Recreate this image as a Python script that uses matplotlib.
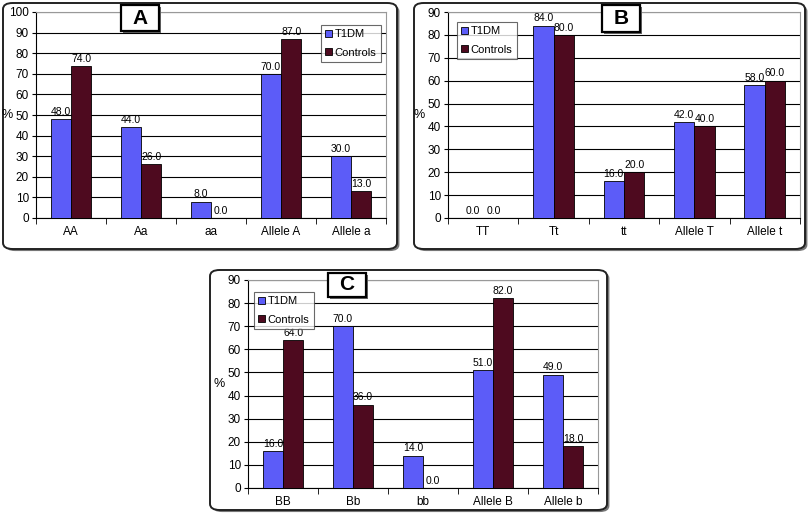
import matplotlib.pyplot as plt
import numpy as np
from matplotlib.patches import FancyBboxPatch, Rectangle

plt.rcParams['font.family'] = ['Liberation Sans', 'DejaVu Sans']

# panel A
cats_a = ["AA", "Aa", "aa", "Allele A", "Allele a"]
t1dm_a = [48.0, 44.0, 8.0, 70.0, 30.0]
ctrl_a = [74.0, 26.0, 0.0, 87.0, 13.0]
# panel B
cats_b = ["TT", "Tt", "tt", "Allele T", "Allele t"]
t1dm_b = [0.0, 84.0, 16.0, 42.0, 58.0]
ctrl_b = [0.0, 80.0, 20.0, 40.0, 60.0]
# panel C
cats_c = ["BB", "Bb", "bb", "Allele B", "Allele b"]
t1dm_c = [16.0, 70.0, 14.0, 51.0, 49.0]
ctrl_c = [64.0, 36.0, 0.0, 82.0, 18.0]

blue = "#5c5cf8"
maroon = "#4e0a1f"
W, H = 810, 518

fig = plt.figure(figsize=(8.1, 5.18), dpi=100)


def px_box(x0, y0, x1, y1):
    # pixel coords (top-left origin) -> figure fraction rect
    return [x0 / W, 1 - y1 / H, (x1 - x0) / W, (y1 - y0) / H]


def frame(x0, y0, x1, y1):
    # shadow then rounded frame, kept behind the axes
    sh = FancyBboxPatch((x0 / W + 0.003, 1 - y1 / H - 0.004), (x1 - x0) / W, (y1 - y0) / H,
                        boxstyle="round,pad=0,rounding_size=0.012", transform=fig.transFigure,
                        facecolor="#777777", edgecolor="none", zorder=-3)
    fr = FancyBboxPatch((x0 / W, 1 - y1 / H), (x1 - x0) / W, (y1 - y0) / H,
                        boxstyle="round,pad=0,rounding_size=0.012", transform=fig.transFigure,
                        facecolor="white", edgecolor="#222222", linewidth=1.4, zorder=-2)
    fig.patches.extend([sh, fr])


def title_box(x0, y0, x1, y1, letter):
    sh = Rectangle((x0 / W + 0.003, 1 - y1 / H - 0.004), (x1 - x0) / W, (y1 - y0) / H,
                   transform=fig.transFigure, facecolor="#666666", edgecolor="none", zorder=5)
    r = Rectangle((x0 / W, 1 - y1 / H), (x1 - x0) / W, (y1 - y0) / H,
                  transform=fig.transFigure, facecolor="white", edgecolor="black",
                  linewidth=1.6, zorder=6)
    fig.patches.extend([sh, r])
    fig.text((x0 + x1) / 2 / W, 1 - (y0 + y1) / 2 / H, letter, ha="center", va="center",
             fontsize=15, fontweight="bold", zorder=7)


def panel(rect, cats, t1, ct, ymax, legend_px):
    ax = fig.add_axes(rect)
    ax.patch.set_alpha(0)
    x = np.arange(len(cats))
    w = 0.29
    ax.bar(x - w / 2, t1, w, color=blue, edgecolor="black", linewidth=0.6, zorder=3, label="T1DM")
    ax.bar(x + w / 2, ct, w, color=maroon, edgecolor="black", linewidth=0.6, zorder=3, label="Controls")
    for xi, v in zip(x, t1):
        ax.text(xi - w / 2, v + 1, f"{v:.1f}", ha="center", va="bottom", fontsize=7.5, zorder=4)
    for xi, v in zip(x, ct):
        ax.text(xi + w / 2, v + 1, f"{v:.1f}", ha="center", va="bottom", fontsize=7.5, zorder=4)
    ax.set_xlim(-0.5, len(cats) - 0.5)
    ax.set_ylim(0, ymax)
    ax.set_yticks(np.arange(0, ymax + 1, 10))
    ax.set_xticks(x)
    ax.set_xticklabels(cats, fontsize=8.5)
    ax.tick_params(axis="x", length=0, pad=6)
    ax.set_xticks(np.arange(-0.5, len(cats)), minor=True)
    ax.tick_params(axis="x", which="minor", length=4, direction="out")
    ax.tick_params(axis="y", labelsize=8.5, length=3, direction="out", pad=2)
    ax.yaxis.grid(True, color="black", linewidth=0.8, zorder=0)
    ax.set_axisbelow(True)
    ax.set_ylabel("%", rotation=0, fontsize=9)
    ax.yaxis.set_label_coords(-0.082, 0.47)
    for s in ["top", "right"]:
        ax.spines[s].set_color("#999999")
    for s in ["left", "bottom"]:
        ax.spines[s].set_color("black")
    lx0, ly0, lx1, ly1 = legend_px
    leg = ax.legend(loc="upper left", fontsize=8, frameon=True, fancybox=False,
                    edgecolor="#444444", handlelength=0.6, handleheight=0.6,
                    handletextpad=0.2, borderpad=0.4, labelspacing=0.75,
                    borderaxespad=0,
                    bbox_to_anchor=(lx0 / W, 1 - ly0 / H), bbox_transform=fig.transFigure)
    leg.get_frame().set_linewidth(0.8)
    leg.set_zorder(8)
    return ax


frame(3, 3, 397, 249)
frame(414, 3, 805, 249)
frame(210, 270, 607, 510)

panel(px_box(36, 12, 386, 218), cats_a, t1dm_a, ctrl_a, 100, (321, 25, 376, 63))
panel(px_box(448, 12, 800, 218), cats_b, t1dm_b, ctrl_b, 90, (457, 22, 511, 57))
panel(px_box(248, 280, 598, 488), cats_c, t1dm_c, ctrl_c, 90, (254, 292, 309, 330))

title_box(121, 5, 159, 31, "A")
title_box(602, 5, 640, 32, "B")
title_box(328, 273, 366, 297, "C")

fig.savefig("out.png", dpi=100)
